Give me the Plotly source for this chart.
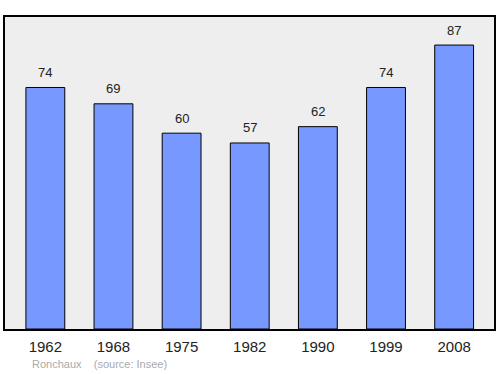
import plotly.graph_objects as go

years = ["1962", "1968", "1975", "1982", "1990", "1999", "2008"]
population = [74, 69, 60, 57, 62, 74, 87]

xs = list(range(len(years)))

fig = go.Figure()
fig.add_trace(go.Bar(
    x=xs, y=population, width=0.57,
    marker=dict(color="#7799ff", line=dict(color="black", width=1)),
    hoverinfo="skip",
))

for x, v in zip(xs, population):
    fig.add_annotation(x=x, y=v, text=str(v), showarrow=False, yshift=15,
                       font=dict(family="Liberation Sans, Arial", size=13, color="#222"))

fig.add_annotation(xref="paper", yref="paper", x=0.052, y=-0.112, xanchor="left",
                   yanchor="middle", showarrow=False,
                   text="Ronchaux&nbsp;&nbsp;&nbsp;&nbsp;(source: Insee)",
                   font=dict(family="Liberation Sans, Arial", size=11, color="#aaaaaa"))

fig.update_layout(
    width=500, height=374,
    margin=dict(l=5, r=4, t=17, b=45),
    plot_bgcolor="#eeeeee", paper_bgcolor="white",
    showlegend=False,
    xaxis=dict(range=[-0.592, 6.585], tickvals=xs, ticktext=years,
               showgrid=False, zeroline=False, showline=True, mirror=True,
               linecolor="black", linewidth=1.5, ticks="", ticklabelstandoff=3,
               tickfont=dict(family="Liberation Sans, Arial", size=15, color="#222")),
    yaxis=dict(range=[0, 95.6], showgrid=False, zeroline=False, showticklabels=False,
               showline=True, mirror=True, linecolor="black", linewidth=1.5, ticks=""),
)

fig.write_html("out.html")
